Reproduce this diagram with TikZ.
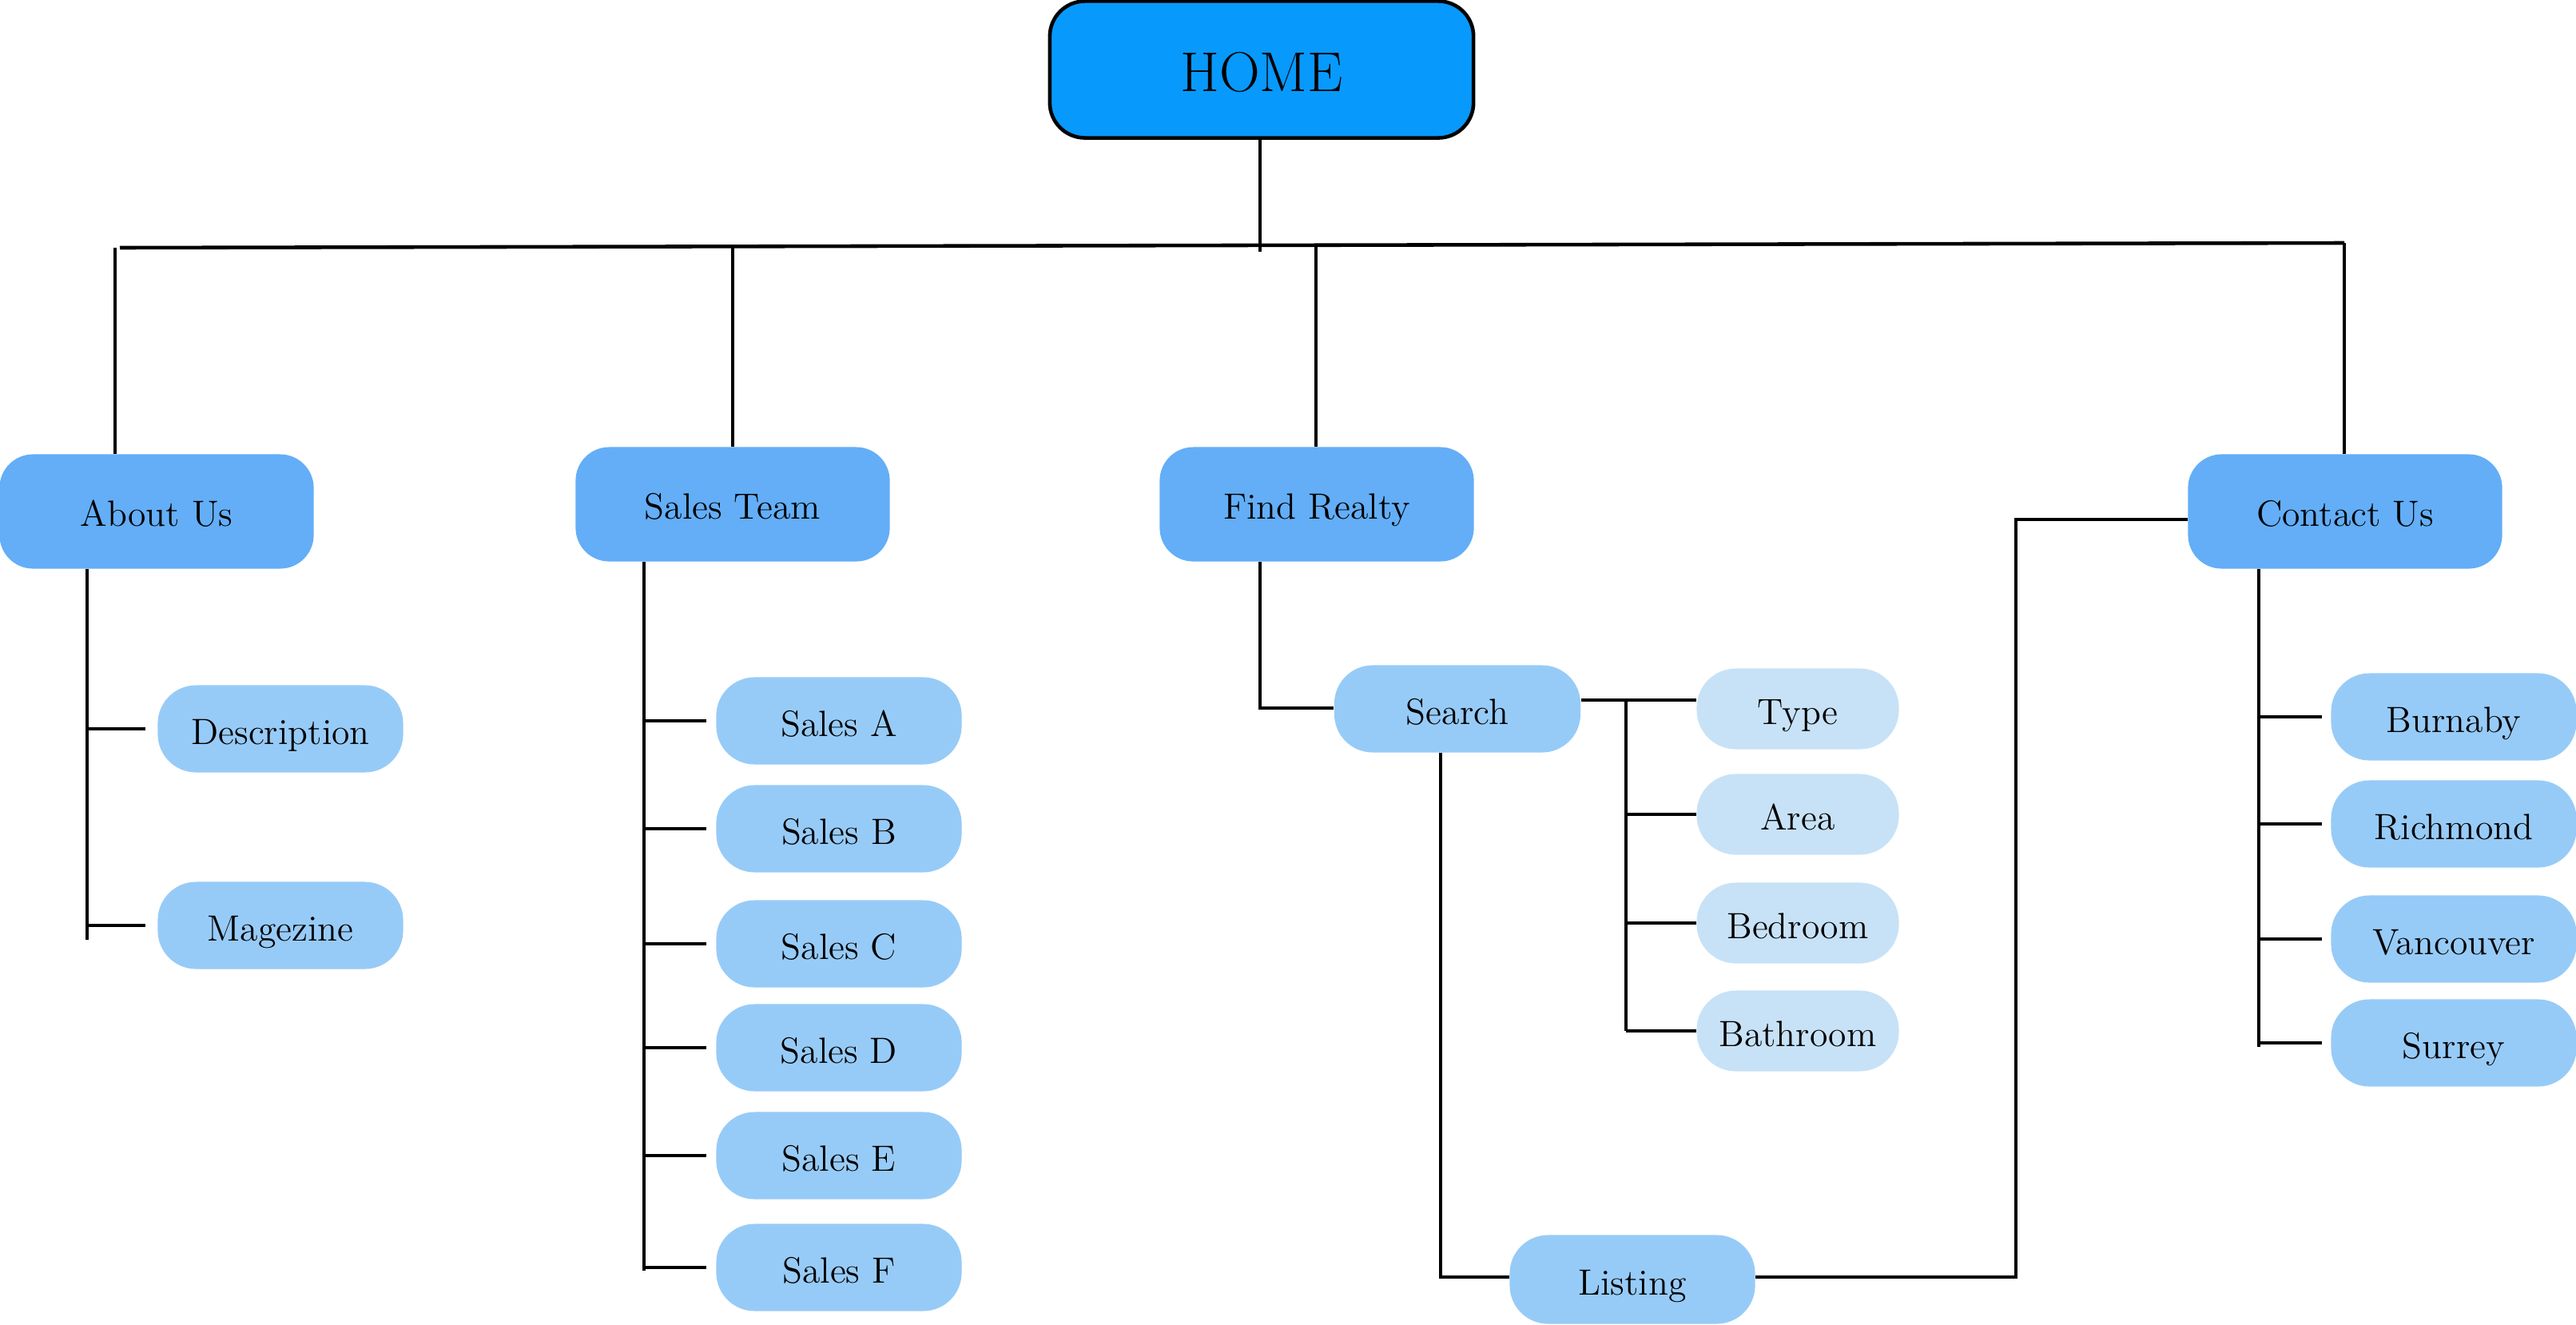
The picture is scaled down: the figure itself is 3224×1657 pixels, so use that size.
\documentclass[tikz,border=0pt]{standalone}
\usetikzlibrary{calc}
\definecolor{homeblue}{HTML}{0899FD}
\definecolor{lvlonec}{HTML}{63AEF7}
\definecolor{lvltwoc}{HTML}{97CBF7}
\definecolor{lvlthreec}{HTML}{C7E2F7}
\begin{document}
\begin{tikzpicture}[x=0.01cm,y=-0.01cm,
  conn/.style={draw=black, line width=1.3pt},
  homebox/.style={draw=black, line width=1.3pt, fill=homeblue, rounded corners=0.44cm,
    minimum width=5.3cm, minimum height=1.71cm, inner sep=0pt, text height=15.5pt, text depth=0pt,
    font=\fontsize{20}{24}\selectfont},
  lvlone/.style={fill=lvlonec, rounded corners=0.42cm, minimum width=3.93cm, minimum height=1.43cm,
    inner sep=0pt, text height=10.4pt, text depth=0pt, font=\fontsize{13}{15}\selectfont},
  lvltwo/.style={fill=lvltwoc, rounded corners=0.48cm, minimum width=3.07cm, minimum height=1.09cm,
    inner sep=0pt, text height=10.8pt, text depth=0pt, font=\fontsize{13}{15}\selectfont},
  lvlthree/.style={fill=lvlthreec, rounded corners=0.49cm, minimum width=2.53cm, minimum height=1.01cm,
    inner sep=0pt, text height=11pt, text depth=0pt, font=\fontsize{13}{15}\selectfont}]
\useasboundingbox (0,0) rectangle (3224,1657);

% nodes
\node[homebox] (home) at (1579,87) {HOME};
\node[lvlone] (about) at (196,640) {About Us};
\node[lvlone] (team) at (917,631) {Sales Team};
\node[lvlone] (find) at (1648,631) {Find Realty};
\node[lvlone] (contact) at (2935,640) {Contact Us};

\node[lvltwo] (desc) at (351,912) {Description};
\node[lvltwo] (mag) at (351,1158) {Magezine};

\node[lvltwo] (sa) at (1050,902) {Sales A};
\node[lvltwo] (sb) at (1050,1037) {Sales B};
\node[lvltwo] (sc) at (1050,1181) {Sales C};
\node[lvltwo] (sd) at (1050,1311) {Sales D};
\node[lvltwo] (se) at (1050,1446) {Sales E};
\node[lvltwo] (sf) at (1050,1586) {Sales F};

\node[lvltwo, minimum width=3.08cm] (search) at (1824,887) {Search};
\node[lvlthree] (type) at (2250,887) {Type};
\node[lvlthree] (area) at (2250,1019) {Area};
\node[lvlthree] (bed) at (2250,1155) {Bedroom};
\node[lvlthree] (bath) at (2250,1290) {Bathroom};

\node[lvltwo, minimum height=1.11cm] (listing) at (2043,1601) {Listing};

\node[lvltwo] (burn) at (3071,897) {Burnaby};
\node[lvltwo] (rich) at (3071,1031) {Richmond};
\node[lvltwo] (van) at (3071,1175) {Vancouver};
\node[lvltwo] (sur) at (3071,1305) {Surrey};

% top bus
\coordinate (busL) at (150,310);
\coordinate (busR) at (2934,304);
\coordinate (hb) at (1577,315);
\draw[conn] (busL) -- (busR);
\draw[conn] (home.south -| hb) -- (hb);
\coordinate (dA) at (144,310);
\coordinate (dB) at (917,309);
\coordinate (dC) at (1647,308);
\coordinate (dD) at (2934,304);
\draw[conn] (dA) -- (dA |- about.north);
\draw[conn] (dB) -- (team.north);
\draw[conn] (dC) -- (dC |- find.north);
\draw[conn] (dD) -- (dD |- contact.north);

% About Us children
\coordinate (va) at (109,1176);
\draw[conn] (va |- about.south) -- (va);
\foreach \n in {desc,mag}
  \draw[conn] (va |- \n.west) -- ([xshift=-0.15cm]\n.west);

% Sales Team children
\coordinate (vs) at (806,1590);
\draw[conn] (vs |- team.south) -- (vs);
\foreach \n in {sa,sb,sc,sd,se,sf}
  \draw[conn] (vs |- \n.west) -- ([xshift=-0.12cm]\n.west);

% Find Realty -> Search
\coordinate (vf) at (1577,886);
\draw[conn] (vf |- find.south) -- (vf) -- (search.west |- vf);

% Search -> attributes
\coordinate (vt) at (2035,876);
\draw[conn] (search.east |- vt) -- (type.west |- vt);
\draw[conn] (vt) -- (vt |- bath.west);
\foreach \n in {area,bed,bath}
  \draw[conn] (vt |- \n.west) -- (\n.west);

% Search -> Listing -> Contact Us
\coordinate (vl) at (1803,1598);
\coordinate (vr) at (2523,1598);
\coordinate (vrt) at (2523,650);
\draw[conn] (vl |- search.south) -- (vl) -- (listing.west |- vl);
\draw[conn] (listing.east |- vr) -- (vr) -- (vrt) -- (contact.west |- vrt);

% Contact Us children
\coordinate (vc) at (2827,1310);
\draw[conn] (vc |- contact.south) -- (vc);
\foreach \n in {burn,rich,van,sur}
  \draw[conn] (vc |- \n.west) -- ([xshift=-0.11cm]\n.west);
\end{tikzpicture}
\end{document}
